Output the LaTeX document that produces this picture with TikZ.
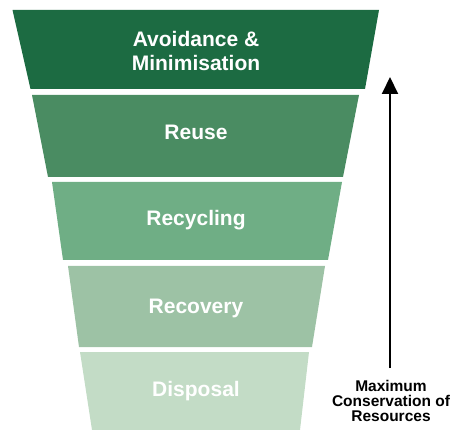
\documentclass[tikz,border=0pt]{standalone}
\usepackage{fontspec}
\setmainfont{Liberation Sans}
\usetikzlibrary{arrows.meta, positioning}
\definecolor{avoidcolor}{HTML}{1C6B42}
\definecolor{reusecolor}{HTML}{4A8C62}
\definecolor{recyclecolor}{HTML}{6FAE85}
\definecolor{recovercolor}{HTML}{9DC2A5}
\definecolor{disposecolor}{HTML}{C3DCC6}

\begin{document}
\begin{tikzpicture}[
    x=1pt, y=-1pt,
    layer/.style={font=\bfseries\fontsize{21}{24}\selectfont, text=white, align=center},
    arrow/.style={-{Triangle[width=16pt, length=17pt]}, line width=2pt}
]
    \useasboundingbox (0,0) rectangle (455,430);

    % Funnel layers
    \fill[avoidcolor] (12.5,10) -- (379,10) -- (365,89) -- (30.5,89) -- cycle;
    \fill[reusecolor] (32,95) -- (359,95) -- (343,177) -- (48,177) -- cycle;
    \fill[recyclecolor] (52,182) -- (342,182) -- (328,260) -- (63,260) -- cycle;
    \fill[recovercolor] (68,266) -- (325,266) -- (312,347) -- (79,347) -- cycle;
    \fill[disposecolor] (80,352) -- (309,352) -- (300,430) -- (92,430) -- cycle;

    % Layer labels
    \node[layer] (avoid) at (196,50.5) {Avoidance \&\\Minimisation};
    \node[layer, anchor=base] (reuse) at (196,140) {Reuse};
    \node[layer, anchor=base] (recycle) at (196,226) {Recycling};
    \node[layer, anchor=base] (recover) at (196,313) {Recovery};
    \node[layer, anchor=base] (dispose) at (196,396) {Disposal};

    % Side arrow
    \coordinate (arrowtip) at (390,77);
    \coordinate (arrowbase) at (390,368);
    \draw[arrow] (arrowbase) -- (arrowtip);
    \node[font=\bfseries\fontsize{15.5}{15}\selectfont, align=center, anchor=north, inner sep=0pt] (conserve) at (391,380.5) {Maximum\\Conservation of\\Resources};

\end{tikzpicture}
\end{document}
